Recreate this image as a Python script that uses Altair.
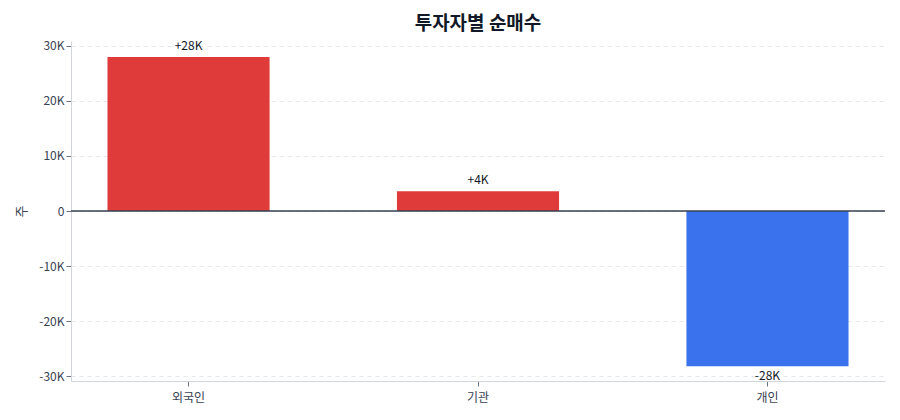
import altair as alt
import pandas as pd

investors = ["외국인", "기관", "개인"]
net_buy = [28000, 3600, -28200]

df = pd.DataFrame({"investor": investors, "value": net_buy})
df["label"] = [("+" if v > 0 else "") + f"{round(v / 1000):.0f}K" for v in net_buy]
df["sign"] = ["pos" if v >= 0 else "neg" for v in net_buy]

FONT = "Noto Sans CJK KR"

x = alt.X("investor:N", sort=investors, title=None,
          scale=alt.Scale(paddingInner=0.44, paddingOuter=0.126),
          axis=alt.Axis(labelAngle=0, labelFontSize=12, labelColor="#374151",
                        tickColor="#6b7280", domainColor="#d1d5db", labelPadding=6))
y = alt.Y("value:Q", title="주",
          scale=alt.Scale(domain=[-30900, 30900], nice=False, zero=True),
          axis=alt.Axis(values=[-30000, -20000, -10000, 0, 10000, 20000, 30000],
                        labelExpr="datum.value == 0 ? '0' : (datum.value/1000) + 'K'",
                        labelFontSize=12, labelColor="#374151", titleFontSize=13,
                        titleColor="#374151", titleFontWeight="normal", titlePadding=10,
                        tickColor="#6b7280", domainColor="#d1d5db",
                        grid=True, gridColor="#e5e7eb", gridDash=[4, 4]))

base = alt.Chart(df)

bars = base.mark_bar(opacity=0.9).encode(
    x=x, y=y,
    color=alt.Color("sign:N", scale=alt.Scale(domain=["pos", "neg"], range=["#dc2626", "#2563eb"]), legend=None),
)

zero = alt.Chart(pd.DataFrame({"z": [0]})).mark_rule(color="#374151", strokeWidth=1.3).encode(y="z:Q")

pos_text = base.transform_filter("datum.value >= 0").mark_text(
    baseline="bottom", dy=-4, fontSize=12, color="#111827", font=FONT
).encode(x=alt.X("investor:N", sort=investors), y="value:Q", text="label:N")

neg_text = base.transform_filter("datum.value < 0").mark_text(
    baseline="top", dy=5, fontSize=12, color="#111827", font=FONT
).encode(x=alt.X("investor:N", sort=investors), y="value:Q", text="label:N")

chart = alt.layer(bars, zero, pos_text, neg_text).properties(
    width=814, height=340,
    title=alt.TitleParams("투자자별 순매수", fontSize=19, fontWeight="bold", color="#111827",
                          font=FONT, offset=6),
    autosize=alt.AutoSizeParams(type="none"),
    padding={"left": 63, "top": 33, "right": 7, "bottom": 31},
).configure(font=FONT).configure_view(stroke=None)

chart.save("out.html", embed_options={"renderer": "svg", "actions": False})
